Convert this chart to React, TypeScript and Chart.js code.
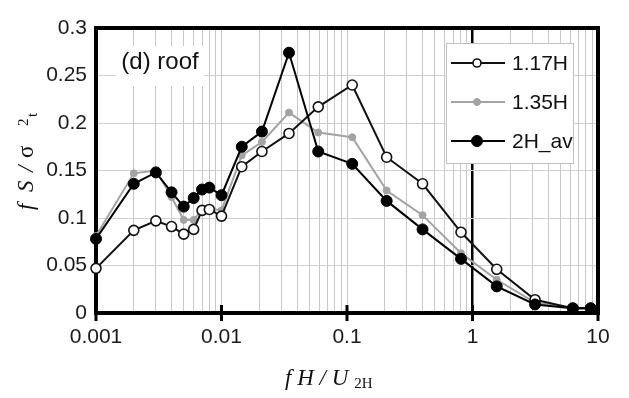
import React, { useEffect, useRef } from 'react';
import { Chart, registerables } from 'chart.js';

Chart.register(...registerables);

// Frequency fH/U2H
const freq = [0.001, 0.002, 0.003, 0.004, 0.005, 0.006, 0.007, 0.008, 0.01, 0.0145, 0.021, 0.0345, 0.059, 0.11, 0.207, 0.4, 0.81, 1.56, 3.15, 6.3, 8.75];
// fS/σt² values
const series117 = [0.047, 0.087, 0.097, 0.091, 0.083, 0.088, 0.108, 0.109, 0.102, 0.154, 0.17, 0.189, 0.217, 0.24, 0.164, 0.136, 0.085, 0.046, 0.014, 0.005, 0.005];
const series135 = [0.081, 0.147, 0.15, 0.122, 0.098, 0.098, 0.109, 0.11, 0.108, 0.166, 0.18, 0.211, 0.19, 0.185, 0.129, 0.103, 0.063, 0.035, 0.011, 0.005, 0.005];
const series2H = [0.078, 0.136, 0.148, 0.127, 0.112, 0.121, 0.13, 0.132, 0.124, 0.175, 0.191, 0.274, 0.17, 0.157, 0.118, 0.088, 0.057, 0.028, 0.009, 0.005, 0.005];
const seriesNames = ['1.17H', '1.35H', '2H_av'];
const xDecades = [0.001, 0.01, 0.1, 1, 10];
const xDecadeLabels = ['0.001', '0.01', '0.1', '1', '10'];
const yTickLabels = ['0', '0.05', '0.1', '0.15', '0.2', '0.25', '0.3'];
const panelLabel = '(d) roof';

const SANS = '"Liberation Sans", Arial, sans-serif';
const SERIF = '"Liberation Serif", "Times New Roman", serif';

const styles = [
  { line: '#111111', fill: '#ffffff', stroke: '#111111', r: 5, bw: 1.6, lw: 2 },
  { line: '#a3a3a3', fill: '#a3a3a3', stroke: '#a3a3a3', r: 3.5, bw: 1, lw: 2 },
  { line: '#000000', fill: '#000000', stroke: '#000000', r: 5.5, bw: 1, lw: 2 },
];

export default function App() {
  const ref = useRef<HTMLCanvasElement>(null);

  useEffect(() => {
    const canvas = ref.current!;
    const gridTicks: number[] = [];
    for (let e = -3; e < 1; e++) {
      for (let m = 1; m <= 9; m++) gridTicks.push(Number((m * Math.pow(10, e)).toPrecision(6)));
    }
    gridTicks.push(10);
    const decadeIndex = (v: number) => xDecades.findIndex((d) => Math.abs(v / d - 1) < 1e-6);

    const seriesData = [series117, series135, series2H];
    const orders = [1, 2, 0];

    const decorPlugin = {
      id: 'decor',
      beforeDatasetsDraw(chart: any) {
        const { ctx, chartArea: a, scales } = chart;
        ctx.save();
        // panel label box
        ctx.fillStyle = '#ffffff';
        ctx.fillRect(a.left + 20, a.top + 18, 88, 40);
        ctx.fillStyle = '#111111';
        ctx.font = `24px ${SANS}`;
        ctx.textAlign = 'center';
        ctx.textBaseline = 'middle';
        ctx.fillText(panelLabel, a.left + 64, a.top + 34);
        // border
        ctx.strokeStyle = '#000000';
        ctx.lineWidth = 4;
        ctx.strokeRect(a.left, a.top, a.right - a.left, a.bottom - a.top);
        // decade ticks crossing bottom axis
        ctx.lineWidth = 3;
        xDecades.forEach((d) => {
          const px = scales.x.getPixelForValue(d);
          ctx.beginPath();
          ctx.moveTo(px, a.bottom - 8);
          ctx.lineTo(px, a.bottom + 8);
          ctx.stroke();
        });
        ctx.restore();
      },
      afterDatasetsDraw(chart: any) {
        const { ctx, chartArea: a } = chart;
        ctx.save();
        const lx = a.right - 152;
        const ly = a.top + 15;
        ctx.fillStyle = '#ffffff';
        ctx.fillRect(lx, ly, 127, 120);
        ctx.strokeStyle = '#c0c0c0';
        ctx.lineWidth = 1;
        ctx.strokeRect(lx + 0.5, ly + 0.5, 127, 120);
        seriesNames.forEach((name, i) => {
          const s = styles[i];
          const y = ly + 20 + i * 39;
          ctx.strokeStyle = s.line;
          ctx.lineWidth = s.lw;
          ctx.beginPath();
          ctx.moveTo(lx + 5, y);
          ctx.lineTo(lx + 59, y);
          ctx.stroke();
          ctx.beginPath();
          ctx.arc(lx + 31, y, i === 0 ? 4 : s.r, 0, Math.PI * 2);
          ctx.fillStyle = s.fill;
          ctx.fill();
          ctx.lineWidth = s.bw;
          ctx.strokeStyle = s.stroke;
          ctx.stroke();
          ctx.fillStyle = '#111111';
          ctx.font = `21px ${SANS}`;
          ctx.textAlign = 'left';
          ctx.textBaseline = 'middle';
          ctx.fillText(name, lx + 66, y + 1);
        });
        ctx.restore();
      },
      afterDraw(chart: any) {
        const { ctx, chartArea: a } = chart;
        ctx.save();
        ctx.fillStyle = '#111111';
        ctx.textBaseline = 'alphabetic';
        ctx.textAlign = 'left';
        // x title: f H / U_2H
        const cx = (a.left + a.right) / 2;
        let x = cx - 62;
        const by = a.bottom + 72;
        ctx.font = `italic 23px ${SERIF}`;
        const main = 'f H / U';
        ctx.fillText(main, x, by);
        x += ctx.measureText(main).width + 6;
        ctx.font = `15px ${SERIF}`;
        ctx.fillText('2H', x, by + 3);
        // y title: f S / σ 2 t, rotated
        ctx.translate(33, 214);
        ctx.rotate(-Math.PI / 2);
        ctx.font = `italic 23px ${SERIF}`;
        ctx.fillText('f', 4, 0);
        ctx.fillText('S', 22, 0);
        ctx.fillText('/', 42, 0);
        ctx.font = `23px ${SERIF}`;
        ctx.fillText('σ', 56, 0);
        ctx.font = `15px ${SERIF}`;
        ctx.fillText('2', 88, -5);
        ctx.fillText('t', 97, 4);
        ctx.restore();
      },
    };

    const chart = new Chart(canvas, {
      type: 'line',
      data: {
        datasets: seriesNames.map((name, i) => ({
          label: name,
          data: freq.map((f, j) => ({ x: f, y: seriesData[i][j] })),
          borderColor: styles[i].line,
          borderWidth: styles[i].lw,
          pointRadius: styles[i].r,
          pointBackgroundColor: styles[i].fill,
          pointBorderColor: styles[i].stroke,
          pointBorderWidth: styles[i].bw,
          tension: 0,
          fill: false,
          clip: false as any,
          order: orders[i],
        })),
      },
      options: {
        animation: false,
        responsive: false,
        devicePixelRatio: 1,
        layout: { padding: { top: 28, right: 31, left: 0, bottom: 0 } },
        plugins: { legend: { display: false }, tooltip: { enabled: false } },
        scales: {
          x: {
            type: 'logarithmic',
            min: 0.001,
            max: 10,
            afterBuildTicks: (scale: any) => {
              scale.ticks = gridTicks.map((v) => ({ value: v, major: decadeIndex(v) >= 0 }));
            },
            afterFit: (scale: any) => {
              scale.height = 85;
            },
            ticks: {
              autoSkip: false,
              maxRotation: 0,
              padding: 12,
              color: '#1a1a1a',
              font: { family: SANS, size: 21 },
              callback: (v: any) => {
                const k = decadeIndex(Number(v));
                return k >= 0 ? xDecadeLabels[k] : '';
              },
            },
            grid: {
              drawTicks: false,
              color: (c: any) => (c.tick && Math.abs(c.tick.value - 1) < 1e-9 ? '#000000' : '#c8c8c8'),
              lineWidth: (c: any) => (c.tick && Math.abs(c.tick.value - 1) < 1e-9 ? 2.5 : 1),
            },
            border: { display: false },
          },
          y: {
            type: 'linear',
            min: 0,
            max: 0.3,
            afterFit: (scale: any) => {
              scale.width = 96;
            },
            ticks: {
              stepSize: 0.05,
              padding: 9,
              color: '#1a1a1a',
              font: { family: SANS, size: 21 },
              callback: (_v: any, i: number) => yTickLabels[i],
            },
            grid: { drawTicks: false, color: '#d0d0d0', lineWidth: 1 },
            border: { display: false },
          },
        },
      },
      plugins: [decorPlugin],
    });
    return () => chart.destroy();
  }, []);

  return (
    <canvas
      ref={ref}
      width={629}
      height={398}
      style={{ position: 'fixed', left: 0, top: 0, width: 629, height: 398, display: 'block', background: '#fff' }}
    />
  );
}
